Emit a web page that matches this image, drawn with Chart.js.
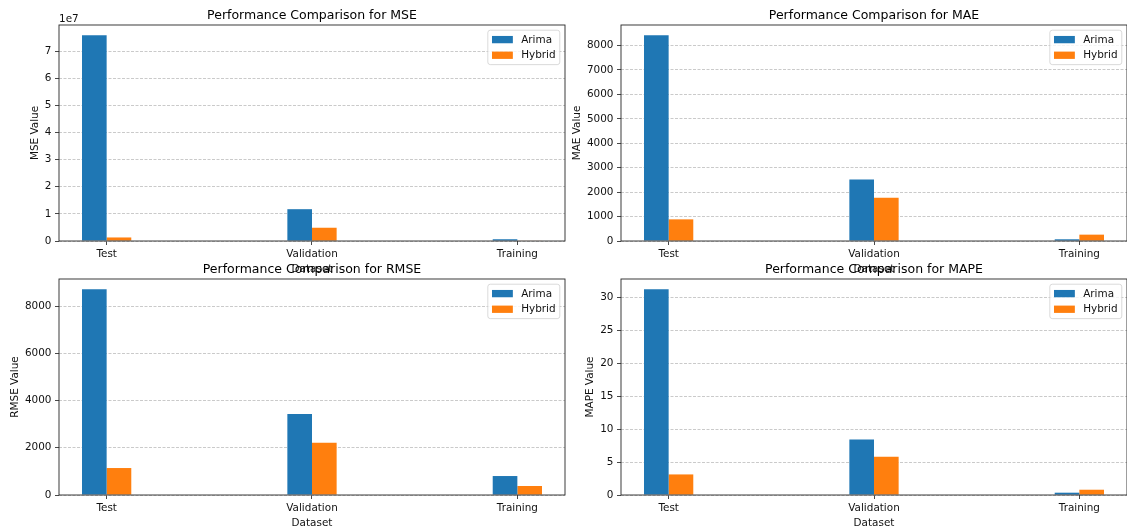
<!DOCTYPE html>
<html>
<head>
<meta charset="utf-8">
<title>Performance Comparison</title>
<script src="https://cdn.jsdelivr.net/npm/chart.js@4.4.1/dist/chart.umd.min.js"></script>
<style>
  html, body { margin: 0; padding: 0; background: #ffffff; overflow: hidden; width: 1127px; height: 528px; }
  canvas { position: absolute; left: 0; top: 0; }
</style>
</head>
<body>
<canvas id="cMSE" width="1127" height="528"></canvas>
<canvas id="cMAE" width="1127" height="528"></canvas>
<canvas id="cRMSE" width="1127" height="528"></canvas>
<canvas id="cMAPE" width="1127" height="528"></canvas>
<script>
// Categories and model names
const datasetNames = ['Test', 'Validation', 'Training'];
const modelNames = ['Arima', 'Hybrid'];

// Metric values per dataset (Test, Validation, Training)
const mseArima = [75860000, 11730000, 645000];
const mseHybrid = [1304000, 4890000, 144000];
const maeArima = [8420, 2518, 70];
const maeHybrid = [886, 1771, 260];
const rmseArima = [8710, 3425, 803];
const rmseHybrid = [1142, 2211, 380];
const mapeArima = [31.2, 8.42, 0.35];
const mapeHybrid = [3.12, 5.8, 0.8];

// Y tick spacing per metric
const mseStep = 1e7;
const maeStep = 1000;
const rmseStep = 2000;
const mapeStep = 5;

// Styling
const FONT = '"DejaVu Sans", "Liberation Sans", sans-serif';
const TICK_PX = 10.43;
const TITLE_PX = 12.5;
const TEXT_COLOR = '#111111';
const MODEL_COLORS = ['#1f77b4', '#ff7f0e'];
const BAR_W = 0.12;          // bar width in category units
const W = 1127, H = 528;
const Y_AXIS_W = 59;

function xRange(n) {
  const lo = -BAR_W, hi = n - 1 + BAR_W;
  const m = 0.05 * (hi - lo);
  return [lo - m, hi + m];
}

function roundRectPath(ctx, x, y, w, h, r) {
  ctx.beginPath();
  ctx.moveTo(x + r, y);
  ctx.lineTo(x + w - r, y);
  ctx.arcTo(x + w, y, x + w, y + r, r);
  ctx.lineTo(x + w, y + h - r);
  ctx.arcTo(x + w, y + h, x + w - r, y + h, r);
  ctx.lineTo(x + r, y + h);
  ctx.arcTo(x, y + h, x, y + h - r, r);
  ctx.lineTo(x, y + r);
  ctx.arcTo(x, y, x + r, y, r);
  ctx.closePath();
}

// Frame, titles, axis labels, offset text and legend for each panel
const panelDecor = {
  id: 'panelDecor',
  afterDraw(chart, args, opts) {
    const { ctx, chartArea: a } = chart;
    const cx = (a.left + a.right) / 2;
    ctx.save();

    // axes frame
    ctx.strokeStyle = '#262626';
    ctx.lineWidth = 0.9;
    ctx.strokeRect(a.left, a.top, a.right - a.left, a.bottom - a.top);

    // title
    ctx.fillStyle = '#000000';
    ctx.font = `${TITLE_PX}px ${FONT}`;
    ctx.textAlign = 'center';
    ctx.textBaseline = 'alphabetic';
    ctx.fillText(opts.title, cx, a.top - 6.25);

    // x axis label
    ctx.font = `${TICK_PX}px ${FONT}`;
    ctx.fillStyle = TEXT_COLOR;
    ctx.fillText(opts.xLabel, cx, a.bottom + 30.5);

    // y axis label, placed left of the widest tick label
    const yScale = chart.scales.y;
    let maxW = 0;
    yScale.ticks.forEach(t => {
      const w = ctx.measureText(String(t.label)).width;
      if (w > maxW) maxW = w;
    });
    const labelsLeft = a.left - 7.6 - maxW;
    const yBase = labelsLeft - 4.2 - 2.5;
    ctx.save();
    ctx.translate(yBase, (a.top + a.bottom) / 2);
    ctx.rotate(-Math.PI / 2);
    ctx.textAlign = 'center';
    ctx.textBaseline = 'alphabetic';
    ctx.fillText(opts.yLabel, 0, 0);
    ctx.restore();

    // scale offset text
    if (opts.offsetText) {
      ctx.textAlign = 'left';
      ctx.fillText(opts.offsetText, a.left, a.top - 3.3);
    }

    // legend (upper right)
    const fs = TICK_PX;
    const pad = 0.4 * fs, handleLen = 2 * fs, handlePad = 0.8 * fs;
    const rowH = fs, rowGap = 0.5 * fs, axPad = 0.5 * fs;
    const labels = chart.data.datasets.map(d => d.label);
    const tw = Math.max(...labels.map(l => ctx.measureText(l).width));
    const bw = pad * 2 + handleLen + handlePad + tw;
    const bh = pad * 2 + rowH * labels.length + rowGap * (labels.length - 1);
    const bx = a.right - axPad - bw;
    const by = a.top + axPad;
    roundRectPath(ctx, bx, by, bw, bh, 2.5);
    ctx.fillStyle = 'rgba(255,255,255,0.8)';
    ctx.fill();
    ctx.strokeStyle = 'rgba(204,204,204,0.9)';
    ctx.lineWidth = 0.8;
    ctx.stroke();
    ctx.textAlign = 'left';
    ctx.textBaseline = 'middle';
    chart.data.datasets.forEach((d, i) => {
      const cy = by + pad + rowH / 2 + i * (rowH + rowGap);
      ctx.fillStyle = d.backgroundColor;
      ctx.fillRect(bx + pad, cy - 0.35 * fs, handleLen, 0.7 * fs);
      ctx.fillStyle = TEXT_COLOR;
      ctx.fillText(d.label, bx + pad + handleLen + handlePad, cy + 0.5);
    });

    ctx.restore();
  }
};

const panels = [
  { id: 'cMSE', metric: 'MSE', arima: mseArima, hybrid: mseHybrid, step: mseStep, factor: 1e7, offsetText: '1e7',
    area: { left: 59, top: 25, right: 565, bottom: 241 } },
  { id: 'cMAE', metric: 'MAE', arima: maeArima, hybrid: maeHybrid, step: maeStep, factor: 1, offsetText: '',
    area: { left: 621, top: 25, right: 1127, bottom: 241 } },
  { id: 'cRMSE', metric: 'RMSE', arima: rmseArima, hybrid: rmseHybrid, step: rmseStep, factor: 1, offsetText: '',
    area: { left: 59, top: 279, right: 565, bottom: 495 } },
  { id: 'cMAPE', metric: 'MAPE', arima: mapeArima, hybrid: mapeHybrid, step: mapeStep, factor: 1, offsetText: '',
    area: { left: 621, top: 279, right: 1127, bottom: 495 } }
];

const [xMin, xMax] = xRange(datasetNames.length);

panels.forEach(p => {
  const series = [p.arima, p.hybrid];
  const yMax = Math.max(...p.arima, ...p.hybrid) * 1.05;
  const xAxisH = H - p.area.bottom;

  new Chart(document.getElementById(p.id), {
    type: 'bar',
    data: {
      datasets: modelNames.map((name, k) => ({
        label: name,
        data: series[k].map((v, i) => ({ x: i, y: v })),
        backgroundColor: MODEL_COLORS[k],
        borderWidth: 0,
        categoryPercentage: 2 * BAR_W,
        barPercentage: 1
      }))
    },
    options: {
      responsive: false,
      animation: false,
      devicePixelRatio: 1,
      layout: {
        padding: {
          left: p.area.left - Y_AXIS_W,
          top: p.area.top,
          right: W - p.area.right,
          bottom: 0
        }
      },
      plugins: {
        legend: { display: false },
        title: { display: false },
        tooltip: { enabled: false },
        panelDecor: {
          title: 'Performance Comparison for ' + p.metric,
          xLabel: 'Dataset',
          yLabel: p.metric + ' Value',
          offsetText: p.offsetText
        }
      },
      scales: {
        x: {
          type: 'linear',
          min: xMin,
          max: xMax,
          bounds: 'data',
          offset: false,
          afterBuildTicks: scale => { scale.ticks = datasetNames.map((_, i) => ({ value: i })); },
          afterFit: scale => { scale.height = xAxisH; },
          grid: {
            offset: false,
            drawOnChartArea: false,
            drawTicks: true,
            tickLength: 4,
            tickColor: '#333333',
            tickWidth: 0.9
          },
          border: { display: false },
          ticks: {
            autoSkip: false,
            maxRotation: 0,
            padding: 3,
            color: TEXT_COLOR,
            font: { family: FONT, size: TICK_PX },
            callback: v => datasetNames[v] !== undefined ? datasetNames[v] : ''
          }
        },
        y: {
          type: 'linear',
          min: 0,
          max: yMax,
          bounds: 'data',
          afterBuildTicks: scale => {
            const t = [];
            for (let k = 0; k * p.step <= yMax; k++) t.push({ value: k * p.step });
            scale.ticks = t;
          },
          afterFit: scale => { scale.width = Y_AXIS_W; },
          grid: {
            color: 'rgba(176,176,176,0.75)',
            lineWidth: 0.9,
            drawTicks: true,
            tickLength: 4,
            tickColor: '#333333',
            tickWidth: 0.9,
            tickBorderDash: []
          },
          border: { display: false, dash: [3, 1.5] },
          ticks: {
            padding: 3.5,
            color: TEXT_COLOR,
            font: { family: FONT, size: TICK_PX },
            callback: v => String(Math.round(v / p.factor * 1000) / 1000)
          }
        }
      }
    },
    plugins: [panelDecor]
  });
});
</script>
</body>
</html>
